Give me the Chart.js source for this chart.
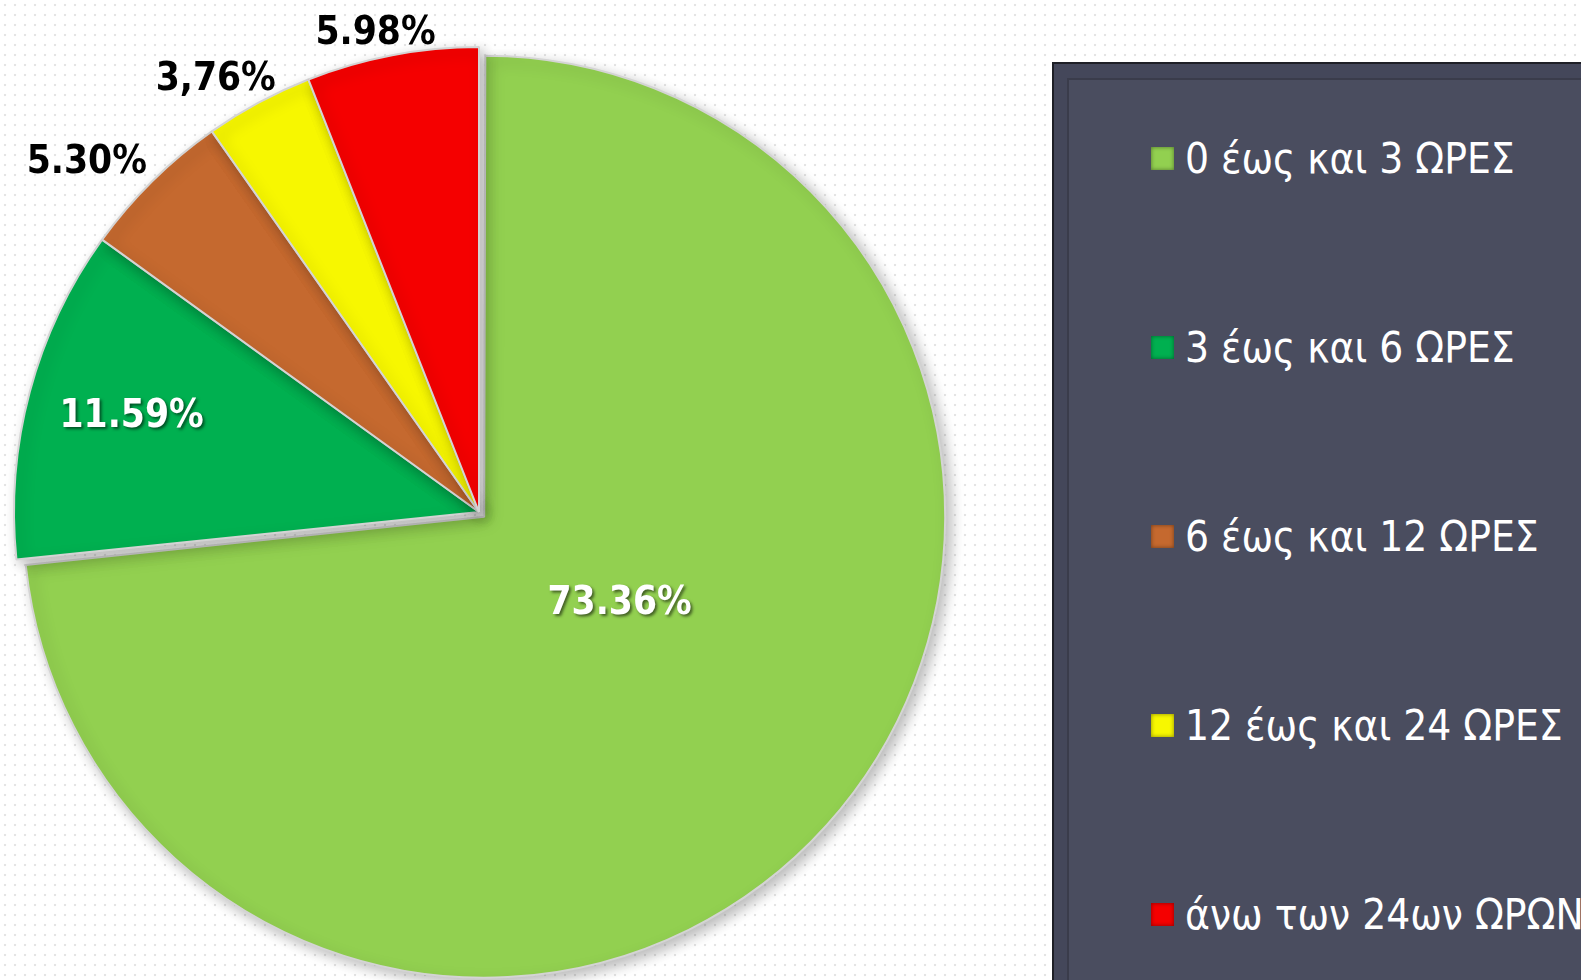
<!DOCTYPE html>
<html>
<head>
<meta charset="utf-8">
<script src="https://cdn.jsdelivr.net/npm/chart.js@4.4.0/dist/chart.umd.min.js"></script>
<style>
html, body { margin: 0; padding: 0; overflow: hidden; }
body {
    width: 1581px;
    height: 980px;
    background-color: #ffffff;
    background-image: radial-gradient(#e4e4e4 1.2px, transparent 1.6px);
    background-size: 10px 10px;
    position: relative;
}
#pieBox { position: absolute; left: 0; top: 0; width: 1000px; height: 1024px; }
#legendOuter {
    position: absolute; left: 1052px; top: 62px; width: 560px; height: 960px;
    background: #44475a; border: 2px solid #1e1f26; box-sizing: border-box;
}
#legendInner {
    position: absolute; left: 13px; top: 14px; right: 0; bottom: 0;
    background: #4a4d5f; border-top: 2px solid #3a3c4b; border-left: 2px solid #3a3c4b;
}
.item {
    position: absolute; left: 82px; height: 44px; display: flex; align-items: center;
    color: #ffffff; font-family: "DejaVu Sans Condensed", "DejaVu Sans", sans-serif;
    font-size: 42px; white-space: nowrap;
}
.item span.box {
    width: 23px; height: 23px; margin-right: 11px; display: inline-block;
    box-shadow: inset 0 0 4px rgba(0,0,0,0.45);
}
</style>
</head>
<body>
<div id="pieBox"><canvas id="graficoHoras"></canvas></div>
<div id="legendOuter"><div id="legendInner"></div></div>
<script>
const categoriasHoras = ["0 έως και 3 ΩΡΕΣ", "3 έως και 6 ΩΡΕΣ", "6 έως και 12 ΩΡΕΣ", "12 έως και 24 ΩΡΕΣ", "άνω των 24ων ΩΡΩΝ"];
const valoresHoras = [73.36, 11.59, 5.30, 3.76, 5.98];
const etiquetasHoras = ["73.36%", "11.59%", "5.30%", "3,76%", "5.98%"];
const coloresHoras = ["#92d050", "#00b050", "#c5692f", "#f7f700", "#f50000"];

// leyenda en HTML
const leyenda = document.getElementById("legendInner");
categoriasHoras.forEach((cat, i) => {
    const div = document.createElement("div");
    div.className = "item";
    div.style.top = (56 + i * 189) + "px";
    const box = document.createElement("span");
    box.className = "box";
    box.style.background = coloresHoras[i];
    div.appendChild(box);
    div.appendChild(document.createTextNode(cat));
    leyenda.appendChild(div);
});

// la porción destacada es un poco más pequeña que las demás
const porcionDestacada = {
    id: "porcionDestacada",
    afterDatasetUpdate(chart, args, opts) {
        const arc = chart.getDatasetMeta(0).data[0];
        if (arc) arc.outerRadius -= opts.reduccion;
    },
};

const sombraPie = {
    id: "sombraPie",
    beforeDatasetsDraw(chart) {
        const ctx = chart.ctx;
        ctx.save();
        ctx.shadowColor = "rgba(0,0,0,0.28)";
        ctx.shadowBlur = 14;
        ctx.shadowOffsetX = 5;
        ctx.shadowOffsetY = 5;
    },
    afterDatasetsDraw(chart) {
        chart.ctx.restore();
    },
};

const etiquetasPie = {
    id: "etiquetasPie",
    afterDraw(chart, args, opts) {
        const ctx = chart.ctx;
        const meta = chart.getDatasetMeta(0);
        const radio = meta.data[1].outerRadius;
        meta.data.forEach((arc, i) => {
            const mid = (arc.startAngle + arc.endAngle) / 2 + opts.giro[i] * Math.PI / 180;
            const r = radio * opts.radios[i];
            const x = arc.x + Math.cos(mid) * r;
            const y = arc.y + Math.sin(mid) * r + 2.5;
            ctx.save();
            ctx.font = "bold 38.5px 'DejaVu Sans Condensed', 'DejaVu Sans', sans-serif";
            ctx.textAlign = "center";
            ctx.textBaseline = "middle";
            if (opts.dentro[i]) {
                ctx.shadowColor = "rgba(0,0,0,0.55)";
                ctx.shadowBlur = 3;
                ctx.shadowOffsetX = 2;
                ctx.shadowOffsetY = 2;
                ctx.fillStyle = "#ffffff";
            } else {
                ctx.fillStyle = "#000000";
            }
            ctx.fillText(etiquetasHoras[i], x, y);
            ctx.restore();
        });
    },
};

const configGraficoHoras = {
    type: "pie",
    data: {
        labels: categoriasHoras,
        datasets: [
            {
                data: valoresHoras,
                backgroundColor: coloresHoras,
                borderColor: "#d4d4d4",
                borderWidth: 2,
                offset: [28, 0, 0, 0, 0],
            },
        ],
    },
    options: {
        responsive: true,
        maintainAspectRatio: false,
        animation: false,
        radius: 465,
        layout: { padding: { left: 0, top: 0, right: 42, bottom: 0 } },
        plugins: {
            legend: { display: false },
            tooltip: { enabled: false },
            porcionDestacada: { reduccion: 11 },
            etiquetasPie: {
                radios: [0.358, 0.776, 1.133, 1.093, 1.056],
                giro: [-9.7, 0.7, -3.5, -2.9, -1.4],
                dentro: [true, true, false, false, false],
            },
        },
    },
    plugins: [porcionDestacada, sombraPie, etiquetasPie],
};

const chartHoras = new Chart(document.getElementById("graficoHoras"), configGraficoHoras);
</script>
</body>
</html>
